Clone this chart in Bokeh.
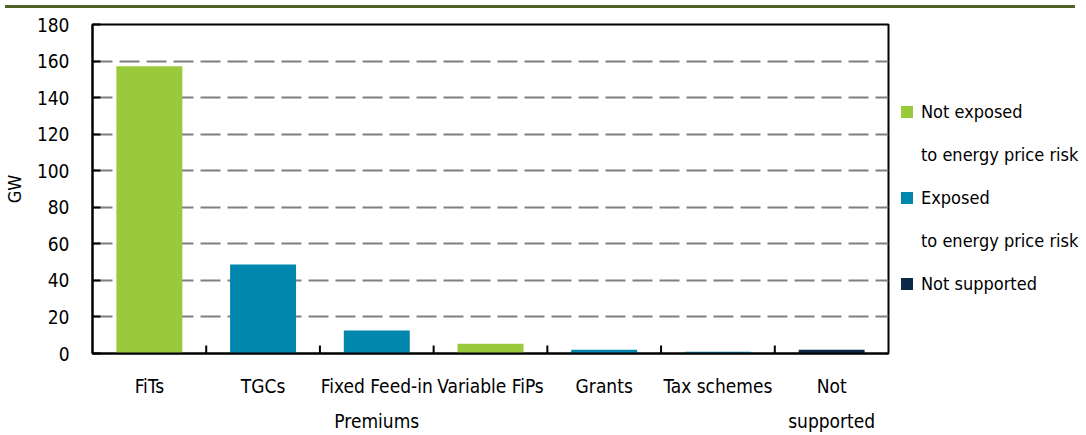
from bokeh.plotting import figure
from bokeh.models import ColumnDataSource, Legend, LegendItem, Div, FixedTicker, Range1d, FactorRange
from bokeh.layouts import column
from bokeh.embed import file_html
from bokeh.resources import INLINE

# ---- data ----
categories = ["FiTs", "TGCs", "Fixed Feed-in\nPremiums", "Variable FiPs",
              "Grants", "Tax schemes", "Not\nsupported"]
values = [157.2, 48.7, 12.6, 5.3, 2.0, 0.9, 2.0]
groups = ["not_exposed", "exposed", "exposed", "not_exposed",
          "exposed", "exposed", "not_supported"]
group_order = ["not_exposed", "exposed", "not_supported"]
group_labels = [["Not exposed", "to energy price risk"],
                ["Exposed", "to energy price risk"],
                ["Not supported"]]
group_colors = ["#9ACA3C", "#0086AC", "#0C2948"]
y_ticks = [0, 20, 40, 60, 80, 100, 120, 140, 160, 180]

FONT = "DejaVu Sans Condensed, Lato, sans-serif"

p = figure(x_range=FactorRange(*categories), y_range=Range1d(0, 180),
           frame_width=796, frame_height=329, output_backend="svg", toolbar_location=None,
           min_border_left=86, min_border_right=188, min_border_top=11,
           min_border_bottom=70)

p.outline_line_color = "black"
p.outline_line_width = 2

renderers = []
for g, col in zip(group_order, group_colors):
    xs = [c for c, gg in zip(categories, groups) if gg == g]
    vs = [v for v, gg in zip(values, groups) if gg == g]
    src = ColumnDataSource(dict(x=xs, top=vs))
    r = p.vbar(x="x", top="top", width=0.58, source=src, fill_color=col, line_color=None)
    renderers.append(r)

# invisible renderer used only for the continuation lines of legend labels
blank = p.vbar(x=[], top=[], width=0.58, fill_alpha=0, line_alpha=0)

# boundary tick marks between categories
tick_len = 4.4
bx = [(c, 0.5) for c in categories[:-1]]
p.segment(x0=bx, x1=bx, y0=[0] * len(bx), y1=[tick_len] * len(bx),
          line_color="black", line_width=2)

# axes
p.xaxis.major_tick_line_color = None
p.xaxis.minor_tick_line_color = None
p.xaxis.axis_line_width = 2
p.xaxis.axis_line_color = "black"
p.xaxis.major_label_text_font = FONT
p.xaxis.major_label_text_font_size = "19px"
p.xaxis.major_label_text_color = "black"
p.xaxis.major_label_standoff = 15
p.xaxis.major_label_text_line_height = 1.6

p.yaxis.ticker = FixedTicker(ticks=y_ticks)
p.yaxis.axis_line_width = 2
p.yaxis.axis_line_color = "black"
p.yaxis.major_tick_in = 8
p.yaxis.major_tick_out = 0
p.yaxis.major_tick_line_width = 2
p.yaxis.minor_tick_line_color = None
p.yaxis.major_label_text_font = FONT
p.yaxis.major_label_text_font_size = "19px"
p.yaxis.major_label_text_color = "black"
p.yaxis.major_label_standoff = 23
p.yaxis.axis_label = "GW"
p.yaxis.axis_label_text_font = FONT
p.yaxis.axis_label_text_font_size = "18px"
p.yaxis.axis_label_text_font_style = "normal"
p.yaxis.axis_label_text_color = "black"
p.yaxis.axis_label_standoff = 9

p.xgrid.grid_line_color = None
p.ygrid.ticker = FixedTicker(ticks=y_ticks)
p.ygrid.grid_line_color = "#7F7F7F"
p.ygrid.grid_line_width = 2
p.ygrid.grid_line_dash = "20 7"

items = []
for lines, r in zip(group_labels, renderers):
    items.append(LegendItem(label=lines[0], renderers=[r]))
    for extra in lines[1:]:
        items.append(LegendItem(label=extra, renderers=[blank]))

legend = Legend(items=items, location=(11, 59))
legend.border_line_color = None
legend.background_fill_alpha = 0
legend.padding = 0
legend.margin = 0
legend.spacing = 22
legend.glyph_width = 15
legend.glyph_height = 15
legend.label_standoff = 7
legend.label_text_font = FONT
legend.label_text_font_size = "18px"
legend.label_text_color = "black"
legend.label_height = 21
p.add_layout(legend, "right")

bar = Div(width=1070, height=3, styles={"background-color": "#4F6228"})

layout = column(bar, p, spacing=0)
open("out.html", "w").write(file_html(layout, INLINE))
